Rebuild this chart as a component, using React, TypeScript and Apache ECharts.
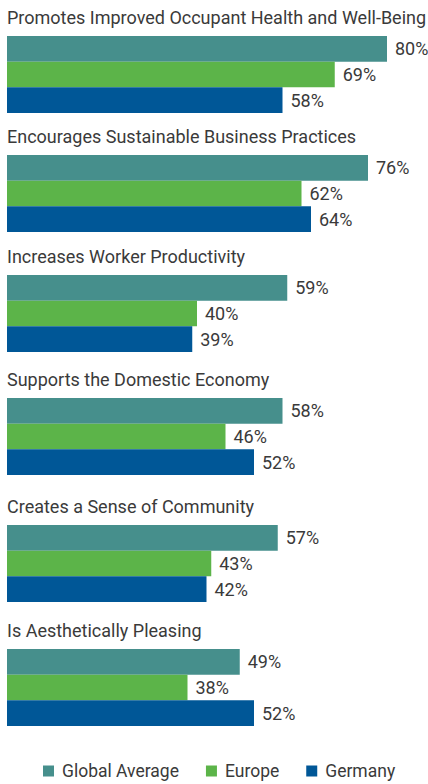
import React, { useEffect, useRef } from "react";
import * as echarts from "echarts";

const questions = [
  "Promotes Improved Occupant Health and Well-Being",
  "Encourages Sustainable Business Practices",
  "Increases Worker Productivity",
  "Supports the Domestic Economy",
  "Creates a Sense of Community",
  "Is Aesthetically Pleasing",
];
const seriesNames = ["Global Average", "Europe", "Germany"];
const globalAverage = [80, 76, 59, 58, 57, 49];
const europe = [69, 62, 40, 46, 43, 38];
const germany = [58, 64, 39, 52, 42, 52];

const colors = ["#468f8c", "#5cb449", "#005797"];
const groupTops = [36, 155, 275, 398, 525, 649];
const FONT = "Roboto, 'Noto Sans', sans-serif";

export default function App() {
  const ref = useRef<HTMLDivElement>(null);
  useEffect(() => {
    if (!ref.current) return;
    const chart = echarts.init(ref.current, null, { renderer: "svg" });
    const values = [globalAverage, europe, germany];
    const grids = groupTops.map((t) => ({ left: 7, width: 380, top: t, height: 77 }));
    const xAxes = groupTops.map((_, i) => ({
      type: "value",
      gridIndex: i,
      min: 0,
      max: 80,
      show: false,
    }));
    const yAxes = groupTops.map((_, i) => ({
      type: "category",
      gridIndex: i,
      data: [questions[i]],
      inverse: true,
      show: false,
    }));
    const series: any[] = [];
    groupTops.forEach((_, i) => {
      seriesNames.forEach((name, s) => {
        series.push({
          type: "bar",
          name,
          xAxisIndex: i,
          yAxisIndex: i,
          data: [values[s][i]],
          barGap: 0,
          barCategoryGap: 0,
          itemStyle: { color: colors[s] },
          label: {
            show: true,
            position: "right",
            distance: 8,
            formatter: "{c}%",
            fontFamily: FONT,
            fontSize: 18,
            color: "#3a3a3a",
          },
        });
      });
    });
    chart.setOption({
      animation: false,
      backgroundColor: "#ffffff",
      color: colors,
      grid: grids,
      xAxis: xAxes,
      yAxis: yAxes,
      series,
      legend: {
        data: seriesNames,
        left: 38,
        top: 757,
        icon: "rect",
        itemWidth: 11,
        itemHeight: 11,
        itemGap: 27,
        textStyle: {
          fontFamily: FONT,
          fontSize: 17.5,
          color: "#3a3a3a",
          padding: [0, 0, 0, 3],
        },
        selectedMode: false,
      },
      graphic: questions.map((q, i) => ({
        type: "text",
        left: 7,
        top: groupTops[i] - 28,
        style: {
          text: q,
          fontFamily: FONT,
          fontSize: 18,
          fill: "#3a3a3a",
        },
      })),
    });
    return () => chart.dispose();
  }, []);
  return (
    <div
      ref={ref}
      style={{ position: "fixed", left: 0, top: 0, width: 428, height: 784 }}
    />
  );
}
